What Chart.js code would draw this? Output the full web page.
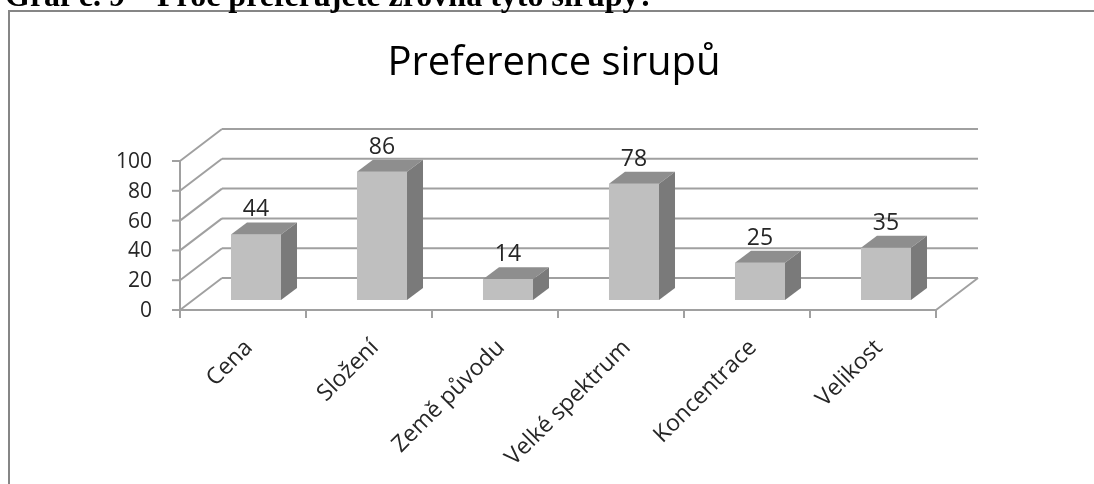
<!DOCTYPE html>
<html>
<head>
<meta charset="utf-8">
<title>Preference sirupů</title>
<script src="https://cdn.jsdelivr.net/npm/chart.js@4"></script>
<style>
  html, body { margin: 0; padding: 0; background: #ffffff; }
  #wrap { position: relative; width: 1094px; height: 484px; overflow: hidden; }
  #chart { position: absolute; left: 0; top: 0; display: block; }
  #caption {
    position: absolute; left: 5px; top: -21px; margin: 0; z-index: 2;
    font: bold 32px/32px "Liberation Serif", "Times New Roman", serif;
    color: #000; white-space: nowrap;
  }
</style>
</head>
<body>
<div id="wrap">
  <canvas id="chart" width="1094" height="484"></canvas>
  <p id="caption"></p>
</div>
<script>
// Survey answers: why respondents prefer these syrups
const categories = ['Cena', 'Složení', 'Země původu', 'Velké spektrum', 'Koncentrace', 'Velikost'];
const values = [44, 86, 14, 78, 25, 35];
const yTicks = [0, 20, 40, 60, 80, 100];
const chartTitle = 'Preference sirupů';
const caption = 'Graf č. 9 – Proč preferujete zrovna tyto sirupy?';

document.getElementById('caption').textContent = caption;

// Pseudo-3D geometry (offsets relative to the plane of the bars' front faces)
const FRONT = { dx: -13, dy: 10 };   // front edge of floor / value axis
const BACK = { dx: 29, dy: -22 };    // back wall
const DEPTH = { dx: 16, dy: -12 };   // depth of each bar
const LINE = '#a0a0a0';
const TEXT = '#262626';
const SANS = '"Open Sans", "Noto Sans", sans-serif';

function line(ctx, x1, y1, x2, y2) {
  ctx.beginPath();
  ctx.moveTo(x1, y1);
  ctx.lineTo(x2, y2);
  ctx.stroke();
}

const frame3d = {
  id: 'frame3d',
  beforeDraw(chart) {
    const { ctx } = chart;
    ctx.save();
    // chart frame
    ctx.strokeStyle = '#868686';
    ctx.lineWidth = 2;
    ctx.beginPath();
    ctx.moveTo(9, 484);
    ctx.lineTo(9, 11);
    ctx.lineTo(1094, 11);
    ctx.stroke();
    // title
    ctx.fillStyle = '#000';
    ctx.font = '40px ' + SANS;
    ctx.textAlign = 'center';
    ctx.textBaseline = 'alphabetic';
    ctx.fillText(chartTitle, 554, 75);
    ctx.restore();
  },
  beforeDatasetsDraw(chart) {
    const { ctx, chartArea: a, scales: { x, y } } = chart;
    const yf = v => y.getPixelForValue(v) + FRONT.dy;
    const yb = v => y.getPixelForValue(v) + BACK.dy;
    const x0 = a.left + FRONT.dx, x1 = a.right + FRONT.dx;
    const bx0 = a.left + BACK.dx, bx1 = a.right + BACK.dx;
    ctx.save();
    ctx.strokeStyle = LINE;
    ctx.lineWidth = 2;
    ctx.lineCap = 'butt';
    // back wall gridlines and side wall diagonals
    yTicks.forEach(v => {
      line(ctx, bx0, yb(v), bx1, yb(v));
      line(ctx, x0, yf(v), bx0, yb(v));
    });
    // floor
    line(ctx, x0, yf(0), x1, yf(0));
    line(ctx, x1, yf(0), bx1, yb(0));
    // value axis with ticks
    line(ctx, x0, yf(100), x0, yf(0) + 8);
    yTicks.forEach(v => line(ctx, x0 - 8, yf(v), x0, yf(v)));
    // category boundary ticks
    for (let i = 0; i <= categories.length; i++) {
      const xb = x.getPixelForValue(i - 0.5) + FRONT.dx;
      line(ctx, xb, yf(0), xb, yf(0) + 8);
    }
    // value labels
    ctx.fillStyle = TEXT;
    ctx.font = '21px ' + SANS;
    ctx.textAlign = 'right';
    ctx.textBaseline = 'middle';
    yTicks.forEach(v => ctx.fillText(String(v), x0 - 28, yf(v) + 1));
    // category labels
    ctx.font = '23px ' + SANS;
    categories.forEach((c, i) => {
      const cx = x.getPixelForValue(i) + FRONT.dx;
      ctx.save();
      ctx.translate(cx + 6, yf(0) + 34);
      ctx.rotate(-Math.PI / 4);
      ctx.textAlign = 'right';
      ctx.textBaseline = 'middle';
      ctx.fillText(c, 0, 0);
      ctx.restore();
    });
    ctx.restore();
  },
  afterDatasetsDraw(chart) {
    const { ctx } = chart;
    const bars = chart.getDatasetMeta(0).data;
    ctx.save();
    bars.forEach((bar, i) => {
      const p = bar.getProps(['x', 'y', 'base', 'width'], true);
      const l = p.x - p.width / 2, r = p.x + p.width / 2;
      // top face
      ctx.fillStyle = '#8e8e8e';
      ctx.beginPath();
      ctx.moveTo(l, p.y);
      ctx.lineTo(l + DEPTH.dx, p.y + DEPTH.dy);
      ctx.lineTo(r + DEPTH.dx, p.y + DEPTH.dy);
      ctx.lineTo(r, p.y);
      ctx.closePath();
      ctx.fill();
      // side face
      ctx.fillStyle = '#7a7a7a';
      ctx.beginPath();
      ctx.moveTo(r, p.y);
      ctx.lineTo(r + DEPTH.dx, p.y + DEPTH.dy);
      ctx.lineTo(r + DEPTH.dx, p.base + DEPTH.dy);
      ctx.lineTo(r, p.base);
      ctx.closePath();
      ctx.fill();
      // value label
      ctx.fillStyle = TEXT;
      ctx.font = '23px ' + SANS;
      ctx.textAlign = 'center';
      ctx.textBaseline = 'alphabetic';
      ctx.fillText(String(values[i]), p.x, p.y + DEPTH.dy - 6);
    });
    ctx.restore();
  }
};

new Chart(document.getElementById('chart'), {
  type: 'bar',
  data: {
    labels: categories,
    datasets: [{
      data: values,
      backgroundColor: '#bfbfbf',
      borderWidth: 0,
      barPercentage: 0.397,
      categoryPercentage: 1
    }]
  },
  options: {
    responsive: false,
    animation: false,
    devicePixelRatio: 1,
    layout: { padding: { left: 193, top: 151, right: 145, bottom: 184 } },
    scales: {
      x: { display: false },
      y: { display: false, min: 0, max: 100 }
    },
    plugins: {
      legend: { display: false },
      tooltip: { enabled: false },
      title: { display: false }
    }
  },
  plugins: [frame3d]
});
</script>
</body>
</html>
